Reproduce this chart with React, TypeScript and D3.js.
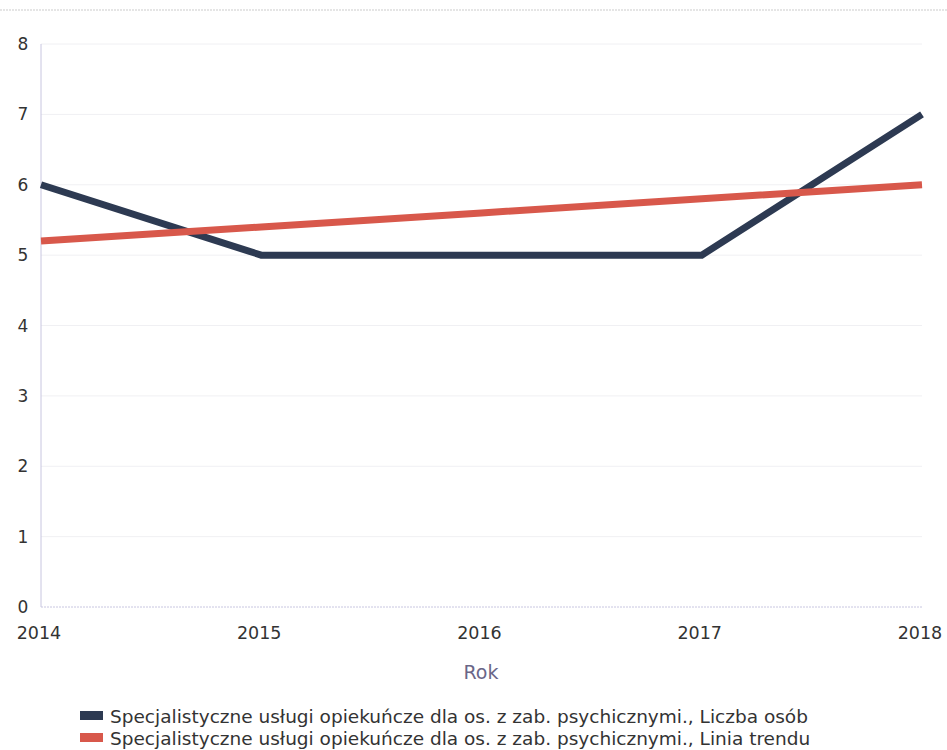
import React from "react";
import * as d3 from "d3";

const years = [2014, 2015, 2016, 2017, 2018];
const liczbaOsob = [6, 5, 5, 5, 7];
const liniaTrendu = [5.2, 5.4, 5.6, 5.8, 6.0];
const yTicks = [0, 1, 2, 3, 4, 5, 6, 7, 8];
const seriesNames = [
  "Specjalistyczne usługi opiekuńcze dla os. z zab. psychicznymi., Liczba osób",
  "Specjalistyczne usługi opiekuńcze dla os. z zab. psychicznymi., Linia trendu",
];
const seriesColors = ["#2d3a52", "#d8584b"];
const xTitle = "Rok";

export default function App() {
  const W = 947, H = 750;
  const x = d3.scaleLinear().domain([2014, 2018]).range([41, 922]);
  const y = d3.scaleLinear().domain([0, 8]).range([607, 44]);
  const line = d3.line<number>().x((_, i) => x(years[i])).y((d) => y(d));
  const series = [liczbaOsob, liniaTrendu];
  return (
    <svg width={W} height={H} style={{ position: "absolute", left: 0, top: 0, background: "#fff" }}>
      <line x1={0} x2={W} y1={10} y2={10} stroke="#ddd" strokeWidth={1.5} strokeDasharray="2,1" />
      {yTicks.map((t) => (
        <g key={t}>
          {t > 0 && (
            <line x1={x(2014)} x2={x(2018)} y1={y(t)} y2={y(t)} stroke="#f0f0f3" strokeWidth={1} />
          )}
          <text x={23} y={y(t)} dy="0.36em" textAnchor="middle" fontFamily="DejaVu Sans" fontSize={17} fill="#333">
            {t}
          </text>
        </g>
      ))}
      <line x1={x(2014)} x2={x(2014)} y1={y(8)} y2={y(0)} stroke="#c8c6e0" strokeWidth={1} />
      <line x1={x(2014)} x2={x(2018)} y1={y(0)} y2={y(0)} stroke="#c8c6e0" strokeWidth={1} strokeDasharray="2,1" />
      {years.map((yr) => (
        <text key={yr} x={x(yr) - 2} y={633} dy="0.36em" textAnchor="middle" fontFamily="DejaVu Sans" fontSize={17.5} fill="#333">
          {yr}
        </text>
      ))}
      <text x={481} y={672} dy="0.36em" textAnchor="middle" fontFamily="DejaVu Sans" fontSize={19} fill="#6a6688">
        {xTitle}
      </text>
      {series.map((s, i) => (
        <path key={i} d={line(s) || ""} fill="none" stroke={seriesColors[i]} strokeWidth={7} strokeLinejoin="miter" />
      ))}
      {seriesNames.map((n, i) => (
        <g key={n}>
          <rect x={80} y={711 + i * 22} width={23} height={9} fill={seriesColors[i]} />
          <text x={110} y={716 + i * 22} dy="0.36em" fontFamily="DejaVu Sans" fontSize={18.5} fill="#333">
            {n}
          </text>
        </g>
      ))}
    </svg>
  );
}
